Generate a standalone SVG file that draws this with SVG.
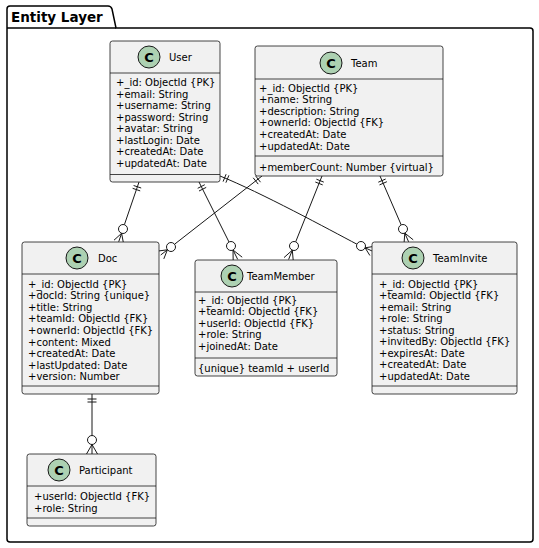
<svg xmlns="http://www.w3.org/2000/svg" width="539" height="548" viewBox="0 0 539 548">
<style>
.pkg{fill:none;stroke:#000;stroke-width:1.5}
.pt{font-family:"DejaVu Sans",sans-serif;font-size:13.5px;font-weight:bold;fill:#000}
.box{fill:#F1F1F1;stroke:#181818;stroke-width:0.8}
.sep{stroke:#181818;stroke-width:0.8}
.ci{fill:#ADD1B2;stroke:#181818;stroke-width:1}
.cl{font-family:"DejaVu Sans",sans-serif;font-size:13px;font-weight:bold;fill:#000;text-anchor:middle}
.nm{font-family:"DejaVu Sans",sans-serif;font-size:10px;fill:#000}
.at{font-family:"DejaVu Sans",sans-serif;font-size:10px;fill:#000}
.e{fill:none;stroke:#181818;stroke-width:1}
.oc{fill:#fff;stroke:#181818;stroke-width:1}
</style>
<g id="package">
<path class="pkg" d="M7,28 L7,9 Q7,6 10,6 L108,6 Q111,6 112,9 L116,28 L530,28 Q533,28 533,31 L533,539 Q533,542 530,542 L10,542 Q7,542 7,539 Z"/>
<line class="pkg" x1="7" y1="28" x2="116" y2="28"/>
<text class="pt" x="11" y="22">Entity Layer</text>
</g>
<g id="connectors">
<!-- User -> Doc -->
<line class="e" x1="139" y1="182" x2="124.4" y2="224.7"/>
<line class="e" x1="133.6" y1="185.5" x2="141.2" y2="188"/>
<line class="e" x1="132.6" y1="188.3" x2="140.2" y2="190.9"/>
<circle class="oc" cx="123" cy="229" r="4.5"/>
<path class="e" d="M121.6,233.3 L118.7,241.8 M121.6,233.3 L123.5,243.4 M121.6,233.3 L114,240.2"/>
<!-- User -> TeamMember -->
<line class="e" x1="199" y1="182" x2="229" y2="242"/>
<line class="e" x1="197.7" y1="188.3" x2="204.8" y2="184.7"/>
<line class="e" x1="199" y1="191" x2="206.2" y2="187.4"/>
<circle class="oc" cx="231" cy="246" r="4.5"/>
<path class="e" d="M233,250 L237.7,259.4 M233,250 L242.2,257.2 M233,250 L233.2,261.6"/>
<!-- User -> TeamInvite -->
<path class="e" d="M220,176 C260,192 330,230 356.9,244.2"/>
<line class="e" x1="226.1" y1="174.2" x2="223.1" y2="181.6"/>
<line class="e" x1="228.9" y1="175.3" x2="225.9" y2="182.7"/>
<circle class="oc" cx="361" cy="246" r="4.5"/>
<path class="e" d="M365.1,247.8 L371.9,250.9 M365.1,247.8 L369.9,255.5 M365.1,247.8 L374,246.4"/>
<!-- Team -> Doc -->
<line class="e" x1="262" y1="176" x2="174.6" y2="244.2"/>
<line class="e" x1="260.5" y1="182.2" x2="255.6" y2="175.9"/>
<line class="e" x1="258.2" y1="184.1" x2="253.2" y2="177.8"/>
<circle class="oc" cx="171" cy="247" r="4.5"/>
<path class="e" d="M167.4,249.8 L160.7,255 M167.4,249.8 L163.8,258.9 M167.4,249.8 L157.6,251.1"/>
<!-- Team -> TeamMember -->
<line class="e" x1="322" y1="176" x2="295.7" y2="241.8"/>
<line class="e" x1="323.8" y1="182.1" x2="316.4" y2="179.2"/>
<line class="e" x1="322.7" y1="184.9" x2="315.3" y2="182"/>
<circle class="oc" cx="294" cy="246" r="4.5"/>
<path class="e" d="M292.3,250.2 L288.6,259.5 M292.3,250.2 L293.3,261.4 M292.3,250.2 L284,257.6"/>
<!-- Team -> TeamInvite -->
<line class="e" x1="380" y1="176" x2="401.2" y2="224.9"/>
<line class="e" x1="385.7" y1="179" x2="378.3" y2="182.2"/>
<line class="e" x1="386.9" y1="181.7" x2="379.5" y2="184.9"/>
<circle class="oc" cx="403" cy="229" r="4.5"/>
<path class="e" d="M404.8,233.1 L408.6,241.8 M404.8,233.1 L413.2,239.8 M404.8,233.1 L404,243.8"/>
<!-- Doc -> Participant -->
<line class="e" x1="92" y1="394" x2="92" y2="435.5"/>
<line class="e" x1="87.5" y1="399" x2="96.5" y2="399"/>
<line class="e" x1="87.5" y1="402" x2="96.5" y2="402"/>
<circle class="oc" cx="92" cy="440" r="4.5"/>
<path class="e" d="M92,444.5 L92,454 M92,444.5 L86.5,454 M92,444.5 L97.5,454"/>
</g>
<g id="User">
<rect class="box" x="110" y="41" width="110" height="141" rx="2.5"/>
<line class="sep" x1="110" y1="73" x2="220" y2="73"/>
<line class="sep" x1="110" y1="174.5" x2="220" y2="174.5"/>
<circle class="ci" cx="149" cy="57" r="11"/>
<text class="cl" x="149" y="61.5">C</text>
<text class="nm" x="169" y="61">User</text>
<text class="at" x="116" y="86">+_id: ObjectId {PK}<tspan x="116" dy="11.57">+email: String</tspan><tspan x="116" dy="11.57">+username: String</tspan><tspan x="116" dy="11.57">+password: String</tspan><tspan x="116" dy="11.57">+avatar: String</tspan><tspan x="116" dy="11.57">+lastLogin: Date</tspan><tspan x="116" dy="11.57">+createdAt: Date</tspan><tspan x="116" dy="11.57">+updatedAt: Date</tspan></text>
</g>
<g id="Team">
<rect class="box" x="255" y="46" width="188" height="130" rx="2.5"/>
<line class="sep" x1="255" y1="79" x2="443" y2="79"/>
<line class="sep" x1="255" y1="156" x2="443" y2="156"/>
<circle class="ci" cx="331" cy="63" r="11"/>
<text class="cl" x="331" y="67.5">C</text>
<text class="nm" x="351" y="67">Team</text>
<text class="at" x="259" y="91.5">+_id: ObjectId {PK}<tspan x="259" dy="11.6">+name: String</tspan><tspan x="259" dy="11.6">+description: String</tspan><tspan x="259" dy="11.6">+ownerId: ObjectId {FK}</tspan><tspan x="259" dy="11.6">+createdAt: Date</tspan><tspan x="259" dy="11.6">+updatedAt: Date</tspan></text>
<text class="at" x="259" y="170.5">+memberCount: Number {virtual}</text>
</g>
<g id="Doc">
<rect class="box" x="22" y="242" width="137" height="152" rx="2.5"/>
<line class="sep" x1="22" y1="274" x2="159" y2="274"/>
<line class="sep" x1="22" y1="386" x2="159" y2="386"/>
<circle class="ci" cx="77" cy="258" r="11"/>
<text class="cl" x="77" y="262.5">C</text>
<text class="nm" x="98" y="262">Doc</text>
<text class="at" x="28" y="287.5">+_id: ObjectId {PK}<tspan x="28" dy="11.6">+docId: String {unique}</tspan><tspan x="28" dy="11.6">+title: String</tspan><tspan x="28" dy="11.6">+teamId: ObjectId {FK}</tspan><tspan x="28" dy="11.6">+ownerId: ObjectId {FK}</tspan><tspan x="28" dy="11.6">+content: Mixed</tspan><tspan x="28" dy="11.6">+createdAt: Date</tspan><tspan x="28" dy="11.6">+lastUpdated: Date</tspan><tspan x="28" dy="11.6">+version: Number</tspan></text>
</g>
<g id="TeamMember">
<rect class="box" x="195" y="260" width="142" height="116" rx="2.5"/>
<line class="sep" x1="195" y1="292" x2="337" y2="292"/>
<line class="sep" x1="195" y1="358" x2="337" y2="358"/>
<circle class="ci" cx="232" cy="276" r="11"/>
<text class="cl" x="232" y="280.5">C</text>
<text class="nm" x="247" y="280">TeamMember</text>
<text class="at" x="198" y="303.5">+_id: ObjectId {PK}<tspan x="198" dy="11.6">+teamId: ObjectId {FK}</tspan><tspan x="198" dy="11.6">+userId: ObjectId {FK}</tspan><tspan x="198" dy="11.6">+role: String</tspan><tspan x="198" dy="11.6">+joinedAt: Date</tspan></text>
<text class="at" x="198" y="371.5">{unique} teamId + userId</text>
</g>
<g id="TeamInvite">
<rect class="box" x="372" y="242" width="145" height="152" rx="2.5"/>
<line class="sep" x1="372" y1="274" x2="517" y2="274"/>
<line class="sep" x1="372" y1="386" x2="517" y2="386"/>
<circle class="ci" cx="413" cy="258" r="11"/>
<text class="cl" x="413" y="262.5">C</text>
<text class="nm" x="433" y="262">TeamInvite</text>
<text class="at" x="379" y="287.5">+_id: ObjectId {PK}<tspan x="379" dy="11.5">+teamId: ObjectId {FK}</tspan><tspan x="379" dy="11.5">+email: String</tspan><tspan x="379" dy="11.5">+role: String</tspan><tspan x="379" dy="11.5">+status: String</tspan><tspan x="379" dy="11.5">+invitedBy: ObjectId {FK}</tspan><tspan x="379" dy="11.5">+expiresAt: Date</tspan><tspan x="379" dy="11.5">+createdAt: Date</tspan><tspan x="379" dy="11.5">+updatedAt: Date</tspan></text>
</g>
<g id="Participant">
<rect class="box" x="27" y="454" width="129" height="72" rx="2.5"/>
<line class="sep" x1="27" y1="486" x2="156" y2="486"/>
<line class="sep" x1="27" y1="518" x2="156" y2="518"/>
<circle class="ci" cx="59" cy="470" r="11"/>
<text class="cl" x="59" y="474.5">C</text>
<text class="nm" x="79" y="474">Participant</text>
<text class="at" x="34" y="500">+userId: ObjectId {FK}<tspan x="34" dy="12">+role: String</tspan></text>
</g>
</svg>
